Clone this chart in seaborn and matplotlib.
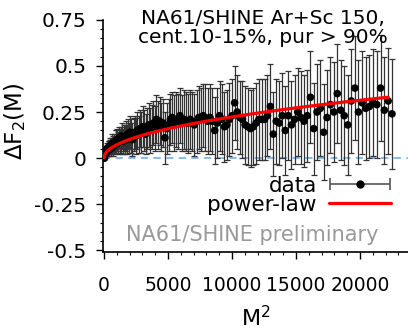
import numpy as np
import pandas as pd
import seaborn as sns
from matplotlib import pyplot as plt
from matplotlib.ticker import MultipleLocator
from matplotlib.legend_handler import HandlerErrorbar

# bin index M = 1..150, plotted vs M^2
m_bins = np.arange(1, 151)

dF2 = [0.00, 0.00, 0.00, 0.01, 0.01, 0.01, 0.02, 0.02, 0.02, 0.03,
       0.03, 0.04, 0.03, 0.04, 0.05, 0.04, 0.05, 0.04, 0.06, 0.05,
       0.06, 0.07, 0.05, 0.07, 0.08, 0.06, 0.07, 0.08, 0.07, 0.09,
       0.09, 0.10, 0.08, 0.11, 0.09, 0.10, 0.12, 0.09, 0.11, 0.10,
       0.12, 0.10, 0.13, 0.11, 0.14, 0.12, 0.10, 0.13, 0.14, 0.12,
       0.15, 0.13, 0.16, 0.14, 0.17, 0.15, 0.13, 0.16, 0.18, 0.15,
       0.17, 0.19, 0.16, 0.21, 0.18, 0.20, 0.17, 0.19, 0.11, 0.16,
       0.18, 0.21, 0.22, 0.19, 0.21, 0.20, 0.23, 0.19, 0.21, 0.20,
       0.19, 0.21, 0.20, 0.18, 0.20, 0.22, 0.21, 0.23, 0.22, 0.20,
       0.22, 0.20, 0.15, 0.19, 0.23, 0.21, 0.17, 0.18, 0.21, 0.23,
       0.30, 0.25, 0.22, 0.21, 0.18, 0.17, 0.16, 0.17, 0.19, 0.21,
       0.21, 0.21, 0.23, 0.28, 0.13, 0.20, 0.19, 0.23, 0.15, 0.23,
       0.18, 0.21, 0.25, 0.22, 0.20, 0.23, 0.33, 0.16, 0.25, 0.27,
       0.14, 0.22, 0.29, 0.25, 0.35, 0.26, 0.23, 0.18, 0.31, 0.38,
       0.25, 0.30, 0.27, 0.28, 0.30, 0.29, 0.38, 0.26, 0.31, 0.24]

dF2_err = [0.00, 0.00, 0.01, 0.01, 0.01, 0.01, 0.01, 0.01, 0.02, 0.02,
           0.02, 0.02, 0.02, 0.02, 0.03, 0.03, 0.03, 0.03, 0.03, 0.04,
           0.04, 0.04, 0.04, 0.04, 0.05, 0.05, 0.05, 0.05, 0.05, 0.06,
           0.06, 0.06, 0.06, 0.06, 0.07, 0.07, 0.07, 0.07, 0.07, 0.08,
           0.08, 0.08, 0.08, 0.08, 0.09, 0.09, 0.09, 0.09, 0.09, 0.10,
           0.10, 0.10, 0.10, 0.11, 0.11, 0.11, 0.11, 0.11, 0.12, 0.12,
           0.12, 0.12, 0.12, 0.13, 0.13, 0.13, 0.13, 0.13, 0.14, 0.14,
           0.14, 0.14, 0.14, 0.15, 0.15, 0.15, 0.15, 0.15, 0.16, 0.16,
           0.16, 0.16, 0.16, 0.17, 0.17, 0.17, 0.17, 0.17, 0.18, 0.18,
           0.18, 0.18, 0.18, 0.19, 0.19, 0.19, 0.19, 0.19, 0.20, 0.20,
           0.20, 0.20, 0.20, 0.21, 0.21, 0.21, 0.21, 0.21, 0.22, 0.22,
           0.22, 0.22, 0.22, 0.23, 0.23, 0.23, 0.23, 0.23, 0.24, 0.24,
           0.24, 0.24, 0.24, 0.25, 0.25, 0.25, 0.25, 0.25, 0.26, 0.26,
           0.26, 0.26, 0.26, 0.27, 0.27, 0.27, 0.27, 0.27, 0.28, 0.28,
           0.28, 0.28, 0.28, 0.28, 0.29, 0.29, 0.29, 0.29, 0.29, 0.30]

# power-law fit dF2 = a * (M^2)^b
fit_a = 0.00245
fit_b = 0.49
fit_range = (1, 22200)

df = pd.DataFrame({'M2': m_bins ** 2, 'dF2': dF2, 'err': dF2_err})
fit_x = np.linspace(fit_range[0], fit_range[1], 400)
fit_df = pd.DataFrame({'M2': fit_x, 'dF2': fit_a * fit_x ** fit_b})

sns.set_style('white')
plt.rcParams['font.family'] = ['DejaVu Sans']
plt.rcParams['text.color'] = 'black'
plt.rcParams['xtick.color'] = 'black'
plt.rcParams['ytick.color'] = 'black'
plt.rcParams['axes.labelcolor'] = 'black'

fig = plt.figure(figsize=(4.08, 3.32), dpi=100)
ax = fig.add_axes([0.2525, 0.241, 0.7475, 0.699])

ax.axhline(0, color='#7fb4ec', lw=1.3, ls=(0, (4, 3)), zorder=1)

ax.errorbar(df['M2'], df['dF2'], yerr=df['err'], fmt='none', ecolor='#333333',
            elinewidth=0.9, capsize=2.3, capthick=0.9, zorder=2)
sns.scatterplot(data=df, x='M2', y='dF2', ax=ax, color='black', s=30,
                edgecolor='none', zorder=3, legend=False)
sns.lineplot(data=fit_df, x='M2', y='dF2', ax=ax, color='red', lw=2.3,
             zorder=4, label='power-law')

# proxy for legend entry with horizontal error bar
h_data = ax.errorbar([np.nan], [np.nan], xerr=[1], fmt='o', color='black',
                     ms=5, ecolor='#555555', elinewidth=1.2, capsize=4,
                     capthick=1.2, label='data')

ax.set_xlim(-80, 23750)
ax.set_ylim(-0.51, 0.75)
ax.set_yticks([-0.5, -0.25, 0, 0.25, 0.5, 0.75])
ax.set_yticklabels(['-0.5', '-0.25', '0', '0.25', '0.5', '0.75'])
ax.set_xticks([0, 5000, 10000, 15000, 20000])
ax.xaxis.set_minor_locator(MultipleLocator(1000))
ax.yaxis.set_minor_locator(MultipleLocator(0.05))
ax.tick_params(which='major', direction='out', length=5, width=1,
               left=True, bottom=True)
ax.tick_params(which='minor', direction='out', length=2.5, width=0.8,
               left=True, bottom=True)
ax.tick_params(axis='y', which='major', labelsize=14.5, pad=7)
ax.tick_params(axis='x', which='major', labelsize=13.5, pad=12)
sns.despine(ax=ax)
for s in ['left', 'bottom']:
    ax.spines[s].set_linewidth(1.2)
    ax.spines[s].set_color('black')

ax.set_xlabel('M$^2$', fontsize=16)
ax.set_ylabel('$\\Delta$F$_2$(M)', fontsize=16.5)
ax.xaxis.set_label_coords(0.5, -0.23)
ax.yaxis.set_label_coords(-0.245, 0.565)

ax.text(0.525, 1.045, 'NA61/SHINE Ar+Sc 150,\ncent.10-15%, pur > 90%',
        transform=ax.transAxes, ha='center', va='top', fontsize=14.5,
        linespacing=0.95)
ax.text(0.49, 0.075, 'NA61/SHINE preliminary', transform=ax.transAxes,
        ha='center', va='center', fontsize=15, color='#999999')

handles, labels = ax.get_legend_handles_labels()
order = [labels.index('data'), labels.index('power-law')]
ax.legend([handles[i] for i in order], [labels[i] for i in order],
          loc='lower right', bbox_to_anchor=(0.945, 0.16), frameon=False,
          markerfirst=False, fontsize=15.5, handlelength=2.9,
          labelspacing=-0.05, borderpad=0.0, borderaxespad=0.0,
          handletextpad=0.55,
          handler_map={h_data: HandlerErrorbar(xerr_size=1.4)})

fig.savefig('out.png', dpi=100)
